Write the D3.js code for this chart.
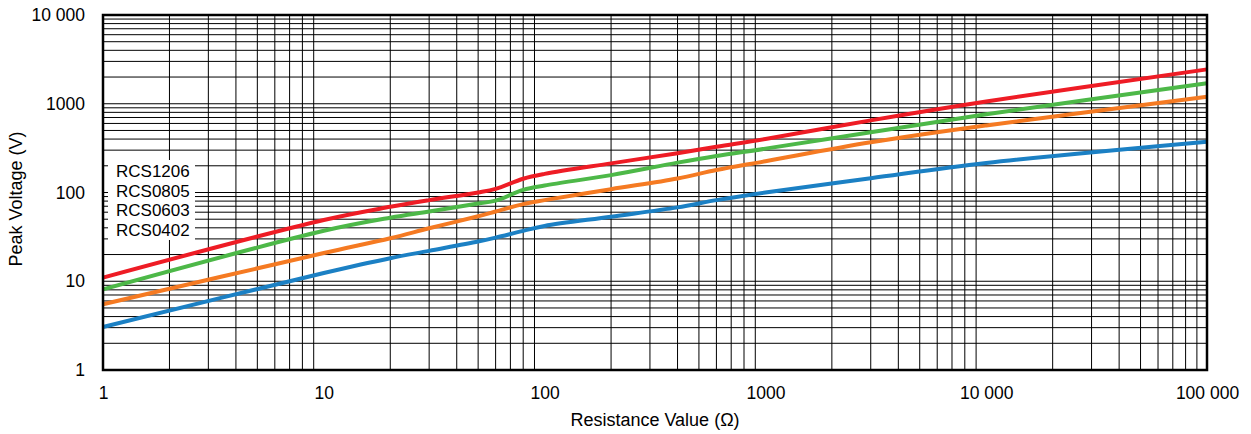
<!DOCTYPE html>
<html>
<head>
<meta charset="utf-8">
<script src="https://cdn.jsdelivr.net/npm/d3@7"></script>
<style>
  body { margin: 0; background: #fff; }
  text { font-family: Arial, "Liberation Sans", sans-serif; fill: #000; }
</style>
</head>
<body>
<div id="chart"></div>
<script>
// resistance values (ohm) where the curves were read
var resistance = [1, 10, 20, 30, 50, 60, 80, 100, 200, 400, 600, 1000, 3000, 10000, 100000];

// peak voltage (V) per part size
var rcs1206 = [11, 49, 69, 82, 100, 110, 143, 162, 213, 277, 328, 400, 650, 1060, 2440];
var rcs0805 = [8.1, 37, 52, 61, 75, 81, 107, 120, 157, 217, 258, 312, 477, 760, 1700];
var rcs0603 = [5.5, 20.8, 30.5, 39.5, 54, 61, 74, 82, 109, 144, 179, 225, 368, 570, 1200];
var rcs0402 = [3.05, 12.4, 18.2, 22, 28, 31, 37, 42, 53.4, 68, 82, 100, 145, 215, 374];

var seriesNames = ["RCS1206", "RCS0805", "RCS0603", "RCS0402"];
var seriesColors = ["#ee1c25", "#4db848", "#f57a22", "#1b80c4"];

var xTicks = [1, 10, 100, 1000, 10000, 100000];
var xTickLabels = ["1", "10", "100", "1000", "10 000", "100 000"];
var yTicks = [1, 10, 100, 1000, 10000];
var yTickLabels = ["1", "10", "100", "1000", "10 000"];

var W = 1251, H = 434;
var pLeft = 103, pRight = 1207, pTop = 15, pBottom = 370;

var svg = d3.select("#chart").append("svg")
  .attr("width", W)
  .attr("height", H);

var x = d3.scaleLog().domain([1, 100000]).range([pLeft, pRight]);
var y = d3.scaleLog().domain([1, 10000]).range([pBottom, pTop]);

// grid: every 1..9 step in each decade
var xGrid = [], yGrid = [];
for (var d = 1; d < 100000; d *= 10)
  for (var k = 2; k <= 9; k++) xGrid.push(d * k);
for (var d = 1; d < 10000; d *= 10)
  for (var k = 1; k <= 9; k++) if (d * k > 1) yGrid.push(d * k);

var grid = svg.append("g");
grid.selectAll(".vg").data(xGrid).enter().append("line")
  .attr("x1", function (v) { return x(v); })
  .attr("x2", function (v) { return x(v); })
  .attr("y1", pTop).attr("y2", pBottom)
  .style("stroke", "#000").style("stroke-width", 1);
grid.selectAll(".hg").data(yGrid).enter().append("line")
  .attr("y1", function (v) { return y(v); })
  .attr("y2", function (v) { return y(v); })
  .attr("x1", pLeft).attr("x2", pRight)
  .style("stroke", "#000").style("stroke-width", 1);

// legend box (white, covers grid)
var legend = svg.append("g");
legend.append("rect")
  .attr("x", 108).attr("y", 160)
  .attr("width", 87).attr("height", 80)
  .style("fill", "#fff");
legend.selectAll("text").data(seriesNames).enter().append("text")
  .attr("x", 116)
  .attr("y", function (d, i) { return 177 + i * 19.6; })
  .style("font-size", "17px")
  .text(function (d) { return d; });

// curves
var allSeries = [rcs1206, rcs0805, rcs0603, rcs0402];
var line = d3.line()
  .x(function (d) { return x(d[0]); })
  .y(function (d) { return y(d[1]); })
  .curve(d3.curveCatmullRom.alpha(0.5));

svg.append("g").selectAll("path").data(allSeries).enter().append("path")
  .attr("d", function (vals) { return line(vals.map(function (v, i) { return [resistance[i], v]; })); })
  .style("fill", "none")
  .style("stroke", function (d, i) { return seriesColors[i]; })
  .style("stroke-width", 4);

// frame
svg.append("rect")
  .attr("x", pLeft).attr("y", pTop)
  .attr("width", pRight - pLeft).attr("height", pBottom - pTop)
  .style("fill", "none").style("stroke", "#000").style("stroke-width", 2.5);

// axes
var xAxis = d3.axisBottom(x).tickValues(xTicks).tickSize(0).tickPadding(17)
  .tickFormat(function (d, i) { return xTickLabels[i]; });
var gx = svg.append("g").attr("transform", "translate(0," + pBottom + ")").call(xAxis);
gx.select(".domain").remove();
gx.selectAll("text").style("font-size", "17.5px").style("font-family", "Arial, 'Liberation Sans', sans-serif").attr("fill", "#000");

var yAxis = d3.axisLeft(y).tickValues(yTicks).tickSize(0).tickPadding(18)
  .tickFormat(function (d, i) { return yTickLabels[i]; });
var gy = svg.append("g").attr("transform", "translate(" + pLeft + ",0)").call(yAxis);
gy.select(".domain").remove();
gy.selectAll("text").style("font-size", "17.5px").style("font-family", "Arial, 'Liberation Sans', sans-serif").attr("fill", "#000");

// titles
svg.append("text")
  .attr("x", (pLeft + pRight) / 2).attr("y", 426)
  .attr("text-anchor", "middle")
  .style("font-size", "18px")
  .text("Resistance Value (Ω)");

svg.append("text")
  .attr("transform", "translate(22,199) rotate(-90)")
  .attr("text-anchor", "middle")
  .style("font-size", "18px")
  .text("Peak Voltage (V)");
</script>
</body>
</html>
